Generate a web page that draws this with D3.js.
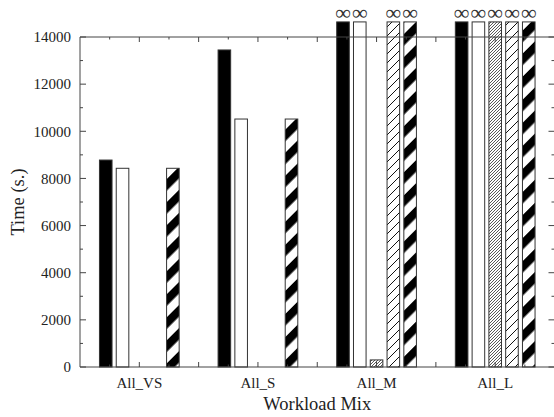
<!DOCTYPE html>
<html>
<head>
<meta charset="utf-8">
<script src="https://cdn.jsdelivr.net/npm/d3@7"></script>
<style>
  html, body { margin: 0; padding: 0; background: #fff; }
  svg { display: block; }
</style>
</head>
<body>
<svg id="chart" width="554" height="417"></svg>
<script>
// Workload mixes and their positions on the numeric x axis
const categories = ["All_VS", "All_S", "All_M", "All_L"];
const categoryPos = [1, 3, 5, 7];

// Run time per configuration (seconds); Infinity = did not finish (drawn with ∞)
const seriesNames = ["solid", "open", "dense", "sparse", "stripe"];
const solidTimes  = [8780, 13450, Infinity, Infinity];
const openTimes   = [8430, 10520, Infinity, Infinity];
const denseTimes  = [0, 0, 300, Infinity];
const sparseTimes = [0, 0, Infinity, Infinity];
const stripeTimes = [8430, 10520, Infinity, Infinity];

// Axis settings
const yTicks = [0, 2000, 4000, 6000, 8000, 10000, 12000, 14000];
const yMax = 14000;
const infCap = 14640;   // height an unfinished bar is drawn to
const xDomain = [0, 8];

const seriesValues = [solidTimes, openTimes, denseTimes, sparseTimes, stripeTimes];

const FONT = "Liberation Serif";

const svg = d3.select("#chart");
const margin = { left: 80, right: 554.5, top: 37, bottom: 367 };

const x = d3.scaleLinear().domain(xDomain).range([margin.left, margin.right]);
const y = d3.scaleLinear().domain([0, yMax]).range([margin.bottom, margin.top]);

// Position of the five bars within a group (in x-axis units)
const inner = d3.scaleBand().domain(seriesNames).range([-0.672, 0.672]).paddingInner(0.25);

// Fill patterns
const defs = svg.append("defs");
const dense = defs.append("pattern").attr("id", "dense")
  .attr("patternUnits", "userSpaceOnUse").attr("width", 3).attr("height", 3);
dense.append("rect").attr("width", 3).attr("height", 3).attr("fill", "#fff");
dense.append("path").attr("d", "M-1,1 L1,-1 M0,3 L3,0 M2,4 L4,2")
  .attr("stroke", "#222").attr("stroke-width", 0.75);

const sparse = defs.append("pattern").attr("id", "sparse")
  .attr("patternUnits", "userSpaceOnUse").attr("width", 9).attr("height", 9);
sparse.append("rect").attr("width", 9).attr("height", 9).attr("fill", "#fff");
sparse.append("path").attr("d", "M-1,1 L1,-1 M0,9 L9,0 M8,10 L10,8")
  .attr("stroke", "#111").attr("stroke-width", 1);

const stripe = defs.append("pattern").attr("id", "stripe")
  .attr("patternUnits", "userSpaceOnUse").attr("width", 16.3).attr("height", 16.3)
  .attr("patternTransform", "rotate(45)");
stripe.append("rect").attr("width", 16.3).attr("height", 16.3).attr("fill", "#fff");
stripe.append("rect").attr("width", 8.2).attr("height", 16.3).attr("fill", "#000");

const fills = {
  solid: "#000",
  open: "#fff",
  dense: "url(#dense)",
  sparse: "url(#sparse)",
  stripe: "url(#stripe)"
};

// Flatten into bar records
const bars = [];
categories.forEach((c, i) => {
  seriesNames.forEach((s, j) => {
    bars.push({ cat: c, pos: categoryPos[i], series: s, value: seriesValues[j][i] });
  });
});

const barW = x(inner.bandwidth()) - x(0);

svg.append("g").selectAll("rect")
  .data(bars)
  .join("rect")
  .attr("x", d => x(d.pos + inner(d.series)))
  .attr("width", barW)
  .attr("y", d => y(isFinite(d.value) ? d.value : infCap))
  .attr("height", d => y(0) - y(isFinite(d.value) ? d.value : infCap))
  .attr("fill", d => fills[d.series])
  .attr("stroke", "#333")
  .attr("stroke-width", 1);

// ∞ markers above unfinished runs
svg.append("g").selectAll("text")
  .data(bars.filter(d => !isFinite(d.value)))
  .join("text")
  .attr("x", d => x(d.pos + inner(d.series)) + barW / 2)
  .attr("y", 13)
  .attr("dy", "0.3em")
  .attr("text-anchor", "middle")
  .attr("fill", "#333")
  .attr("font-family", FONT)
  .attr("font-size", 22)
  .text("\u221E");

// Frame and ticks
const axisColor = "#444";
const frame = svg.append("g").attr("stroke", axisColor).attr("stroke-width", 1).attr("fill", "none");
frame.append("line").attr("x1", x(0)).attr("x2", x(8)).attr("y1", y(0)).attr("y2", y(0));
frame.append("line").attr("x1", x(0)).attr("x2", x(8)).attr("y1", y(yMax)).attr("y2", y(yMax));
frame.append("line").attr("x1", x(0)).attr("x2", x(0)).attr("y1", y(0)).attr("y2", y(yMax));
frame.append("line").attr("x1", x(8)).attr("x2", x(8)).attr("y1", y(0)).attr("y2", y(yMax));

// y ticks (major every 2000, minor every 1000), mirrored on the right
const yMinor = d3.range(1000, yMax, 2000);
yTicks.forEach(v => {
  frame.append("line").attr("x1", x(0)).attr("x2", x(0) + 6).attr("y1", y(v)).attr("y2", y(v));
  frame.append("line").attr("x1", x(8)).attr("x2", x(8) - 6).attr("y1", y(v)).attr("y2", y(v));
});
yMinor.forEach(v => {
  frame.append("line").attr("x1", x(0)).attr("x2", x(0) + 3).attr("y1", y(v)).attr("y2", y(v));
  frame.append("line").attr("x1", x(8)).attr("x2", x(8) - 3).attr("y1", y(v)).attr("y2", y(v));
});

// x ticks (major each unit, minor each half unit), mirrored on top
const xMajor = d3.range(1, 8, 1);
const xMinor = d3.range(0.5, 8, 1);
xMajor.forEach(v => {
  frame.append("line").attr("x1", x(v)).attr("x2", x(v)).attr("y1", y(0)).attr("y2", y(0) - 5);
  frame.append("line").attr("x1", x(v)).attr("x2", x(v)).attr("y1", y(yMax)).attr("y2", y(yMax) + 5);
});
xMinor.forEach(v => {
  frame.append("line").attr("x1", x(v)).attr("x2", x(v)).attr("y1", y(0)).attr("y2", y(0) - 2.5);
  frame.append("line").attr("x1", x(v)).attr("x2", x(v)).attr("y1", y(yMax)).attr("y2", y(yMax) + 2.5);
});

// y tick labels
svg.append("g").selectAll("text")
  .data(yTicks)
  .join("text")
  .attr("x", x(0) - 9)
  .attr("y", d => y(d))
  .attr("dy", "0.35em")
  .attr("text-anchor", "end")
  .attr("fill", "#222")
  .attr("font-family", FONT)
  .attr("font-size", 15)
  .text(d3.format("d"));

// category labels
svg.append("g").selectAll("text")
  .data(categories)
  .join("text")
  .attr("x", (d, i) => x(categoryPos[i]))
  .attr("y", 388)
  .attr("text-anchor", "middle")
  .attr("fill", "#222")
  .attr("font-family", FONT)
  .attr("font-size", 15)
  .text(d => d);

// axis titles
svg.append("text")
  .attr("x", (x(0) + x(8)) / 2)
  .attr("y", 410)
  .attr("text-anchor", "middle")
  .attr("fill", "#222")
  .attr("font-family", FONT)
  .attr("font-size", 18.5)
  .text("Workload Mix");

svg.append("text")
  .attr("transform", `translate(24,${(y(0) + y(yMax)) / 2}) rotate(-90)`)
  .attr("text-anchor", "middle")
  .attr("fill", "#222")
  .attr("font-family", FONT)
  .attr("font-size", 18.5)
  .text("Time (s.)");
</script>
</body>
</html>
